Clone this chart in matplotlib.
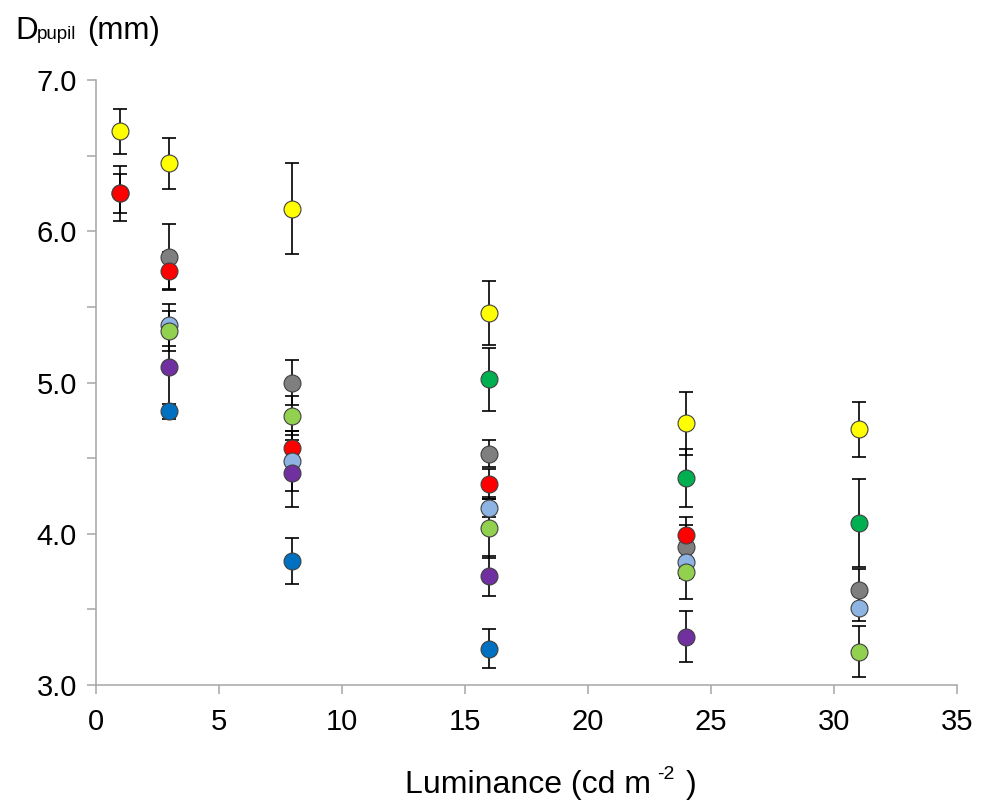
"""
Pupil diameter vs. luminance, scatter with error bars
"""

import numpy as np
import matplotlib
matplotlib.use("Agg")
import matplotlib.pyplot as plt

plt.rcParams['font.family'] = ['Liberation Sans', 'DejaVu Sans']

nan = np.nan

# luminance levels (cd m-2)
luminance = [1, 3, 8, 16, 24, 31]

# series: pupil diameter means and error (mm), drawn back to front
series_colors = ['#7F7F7F', '#FF0000', '#8DB4E2', '#92D050',
                 '#7030A0', '#0070C0', '#00B050', '#FFFF00']

gray_mean = [6.25, 5.83, 5.00, 4.53, 3.91, 3.63]
gray_err = [0.18, 0.22, 0.15, 0.09, 0.20, 0.14]

red_mean = [6.25, 5.74, 4.57, 4.33, 3.99, nan]
red_err = [0.13, 0.12, 0.11, 0.10, 0.07, nan]

lightblue_mean = [nan, 5.38, 4.48, 4.17, 3.81, 3.51]
lightblue_err = [nan, 0.14, 0.20, 0.06, 0.10, 0.09]

lightgreen_mean = [nan, 5.34, 4.78, 4.04, 3.75, 3.22]
lightgreen_err = [nan, 0.13, 0.13, 0.20, 0.18, 0.17]

purple_mean = [nan, 5.10, 4.40, 3.72, 3.32, nan]
purple_err = [nan, 0.30, 0.22, 0.13, 0.17, nan]

blue_mean = [nan, 4.81, 3.82, 3.24, nan, nan]
blue_err = [nan, 0.05, 0.15, 0.13, nan, nan]

green_mean = [nan, nan, nan, 5.02, 4.37, 4.07]
green_err = [nan, nan, nan, 0.21, 0.19, 0.29]

yellow_mean = [6.66, 6.45, 6.15, 5.46, 4.73, 4.69]
yellow_err = [0.15, 0.17, 0.30, 0.21, 0.21, 0.18]

means = [gray_mean, red_mean, lightblue_mean, lightgreen_mean,
         purple_mean, blue_mean, green_mean, yellow_mean]
errors = [gray_err, red_err, lightblue_err, lightgreen_err,
          purple_err, blue_err, green_err, yellow_err]


def main() -> None:
    fig = plt.figure(figsize=(9.87, 8.02), dpi=100)
    ax = fig.add_axes([0.0968, 0.1459, 0.9696 - 0.0968, 0.9002 - 0.1459])

    # error bars first, markers on top
    for m, e in zip(means, errors):
        ax.errorbar(luminance, m, yerr=e, fmt='none', ecolor='black',
                    elinewidth=1.2, capsize=4.8, capthick=1.2, zorder=2)
    for m, c in zip(means, series_colors):
        ax.plot(luminance, m, 'o', linestyle='none', markersize=12.2,
                markerfacecolor=c, markeredgecolor='#404040',
                markeredgewidth=0.8, zorder=3)

    ax.set_xlim(0, 35)
    ax.set_ylim(3.0, 7.0)
    ax.set_xticks(np.arange(0, 36, 5))
    ax.set_yticks(np.arange(3.0, 7.01, 1.0))
    ax.set_yticks(np.arange(3.5, 7.0, 1.0), minor=True)
    ax.set_yticklabels([f'{v:.1f}' for v in np.arange(3.0, 7.01, 1.0)])

    for side in ['top', 'right']:
        ax.spines[side].set_visible(False)
    for side in ['left', 'bottom']:
        ax.spines[side].set_color('#A6A6A6')
        ax.spines[side].set_linewidth(1.1)

    ax.tick_params(axis='both', which='both', direction='out',
                   color='#A6A6A6', width=1.1, length=6.5, labelsize=21)
    ax.tick_params(axis='y', which='both', pad=7)
    ax.tick_params(axis='x', which='both', pad=10)

    # y axis title: D with small "pupil", then (mm)
    base = 1 - 39 / 802
    fig.text(15 / 987, base, 'D', fontsize=22.5, va='baseline', ha='left')
    fig.text(37 / 987, base, 'pupil', fontsize=13.5, va='baseline', ha='left')
    fig.text(87 / 987, base, '(mm)', fontsize=22.5, va='baseline', ha='left')

    # x axis title, with a raised small "-2"
    xbase = 1 - 793 / 802
    fig.text(405 / 987, xbase, 'Luminance (cd m', fontsize=23,
             va='baseline', ha='left')
    fig.text(657 / 987, 1 - 779 / 802, '-2', fontsize=14,
             va='baseline', ha='left')
    fig.text(686 / 987, xbase, ')', fontsize=23, va='baseline', ha='left')

    fig.savefig('out.png', dpi=100, facecolor='white')


if __name__ == "__main__":
    main()
